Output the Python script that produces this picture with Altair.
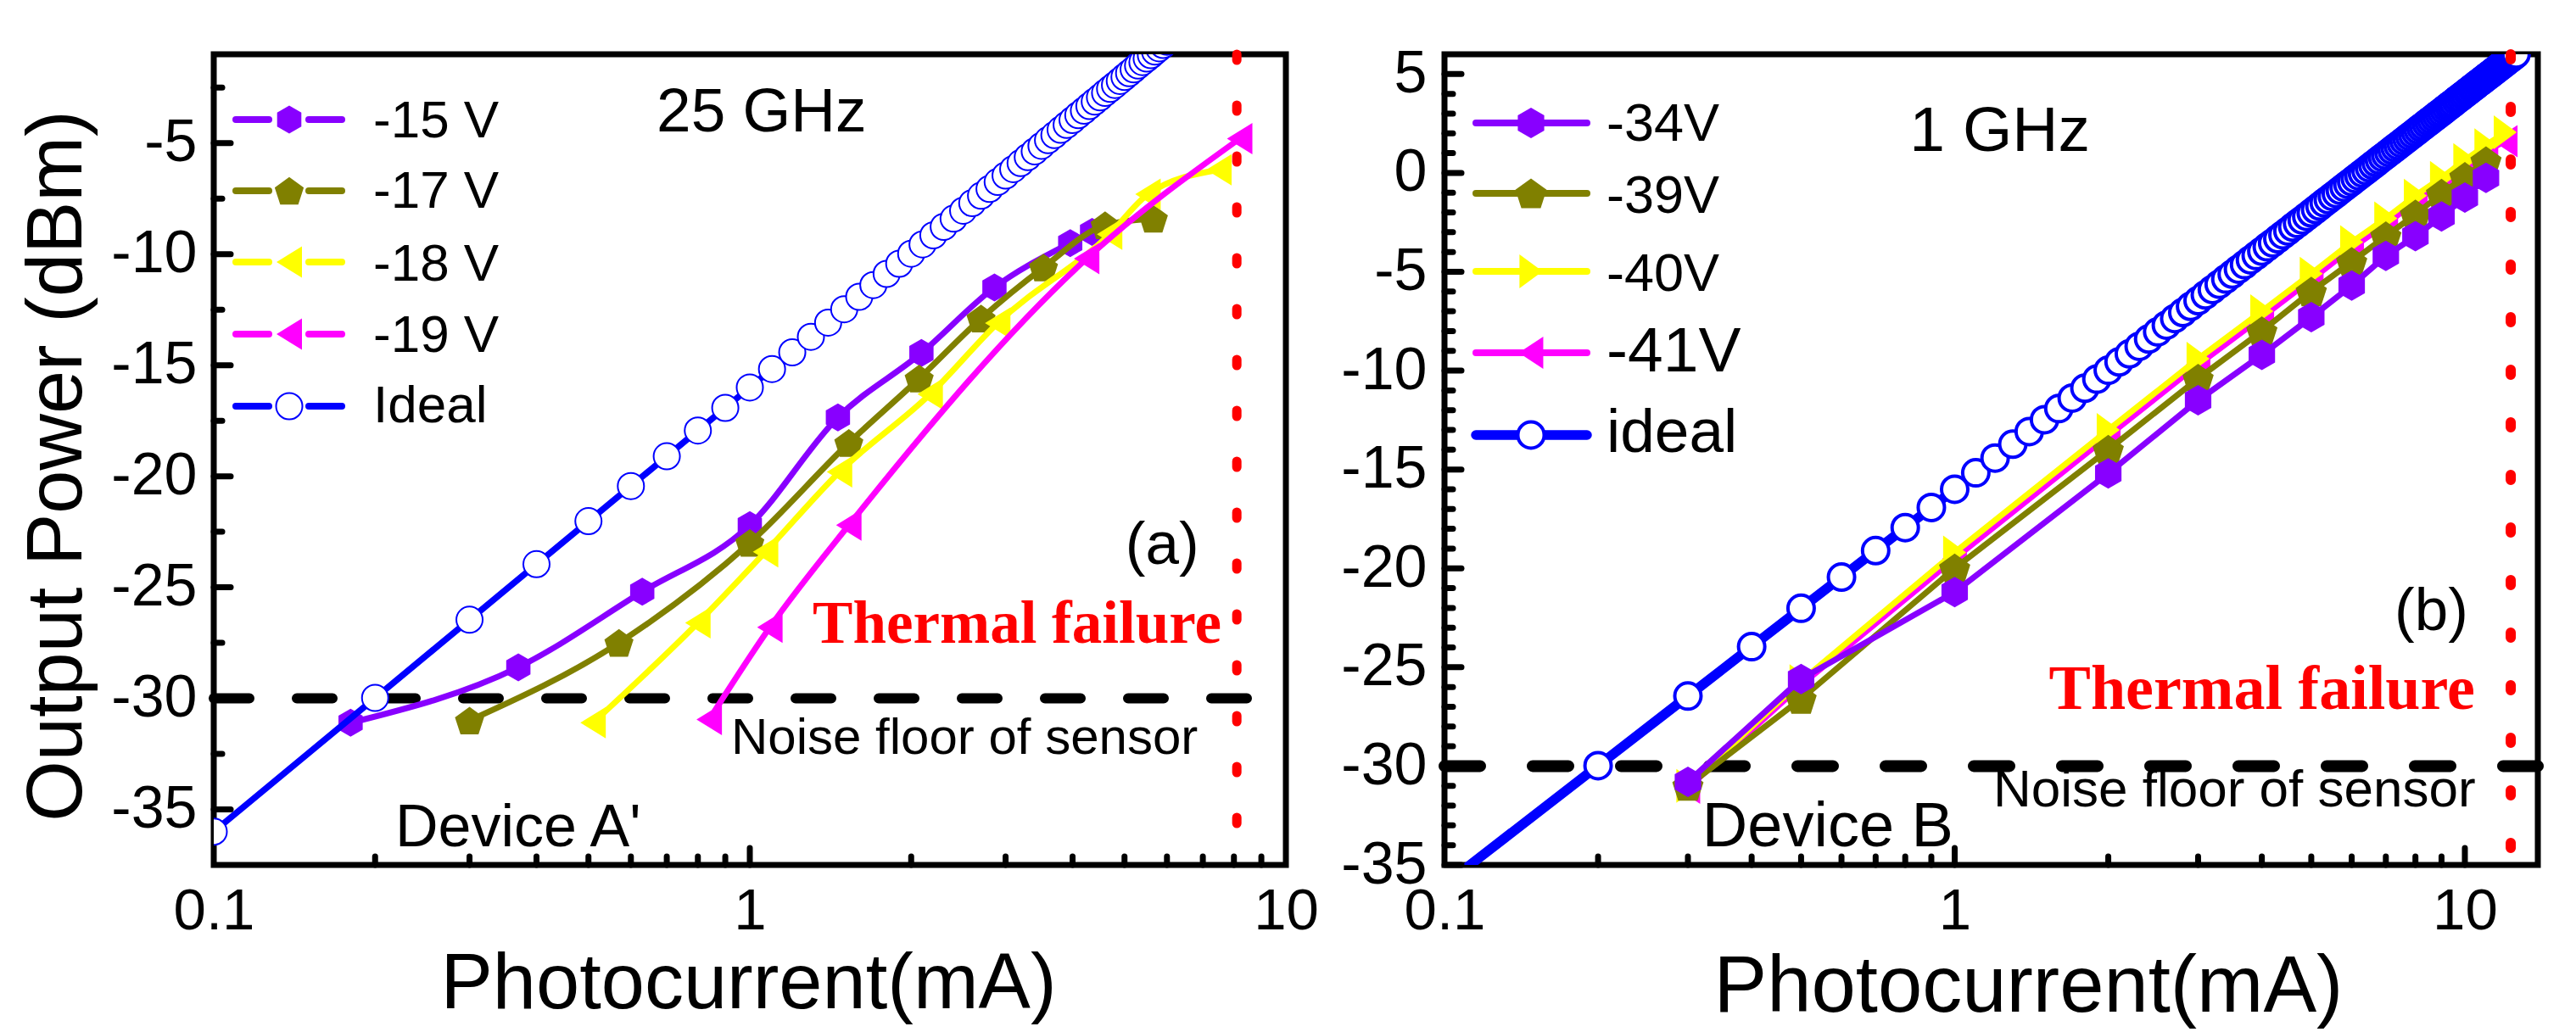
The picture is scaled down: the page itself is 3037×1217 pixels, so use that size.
import altair as alt
import pandas as pd

# ---------------- panel (a): Device A', 25 GHz ----------------
A_NAMES = ["-15 V", "-17 V", "-18 V", "-19 V", "Ideal"]
A15_I = [0.18, 0.37, 0.63, 1.0, 1.46, 2.09, 2.86, 3.96, 4.35]
A15_P = [-31.1, -28.6, -25.2, -22.2, -17.35, -14.45, -11.5, -9.5, -9.0]
A17_I = [0.30, 0.57, 1.0, 1.53, 2.07, 2.70, 3.53, 4.6, 5.66]
A17_P = [-31.0, -27.5, -23.0, -18.5, -15.6, -12.9, -10.6, -8.7, -8.4]
A18_I = [0.51, 0.80, 1.07, 1.47, 2.17, 2.90, 4.69, 5.53, 7.5]
A18_P = [-31.1, -26.6, -23.4, -19.8, -16.3, -13.1, -9.1, -7.3, -6.2]
A19_I = [0.84, 1.09, 1.53, 4.25, 8.2]
A19_P = [-30.95, -26.8, -22.2, -10.2, -4.8]
A_FAIL_I = [8.1]
A_NOISE = [-30]

# ---------------- panel (b): Device B, 1 GHz ----------------
B_NAMES = ["-34V", "-39V", "-40V", "-41V", "ideal"]
B_I13 = [0.3, 0.5, 1, 2, 3, 4, 5, 6, 7, 8, 9, 10, 11]
B_I14 = [0.3, 0.5, 1, 2, 3, 4, 5, 6, 7, 8, 9, 10, 11, 12]
B34_P = [-30.8, -25.6, -21.2, -15.2, -11.5, -9.2, -7.3, -5.7, -4.2, -3.2, -2.2, -1.25, -0.25]
B39_P = [-31.0, -26.6, -20.0, -14.0, -10.4, -8.0, -6.0, -4.5, -3.2, -2.1, -1.05, -0.2, 0.6]
B40_P = [-31.0, -25.7, -19.2, -13.0, -9.4, -7.0, -5.1, -3.5, -2.3, -1.15, -0.25, 0.65, 1.4, 2.05]
B41_P = [-31.1, -25.9, -19.5, -13.3, -9.7, -7.3, -5.4, -3.8, -2.6, -1.45, -0.55, 0.35, 1.1, 1.6]
B_FAIL_I = [12.3]
B_NOISE = [-30]

# ideal response
IDEAL_I = [0.1, 0.2, 0.3, 0.4, 0.5, 0.6, 0.7, 0.8, 0.9, 1.0,
           1.1, 1.2, 1.3, 1.4, 1.5, 1.6, 1.7, 1.8, 1.9, 2.0,
           2.1, 2.2, 2.3, 2.4, 2.5, 2.6, 2.7, 2.8, 2.9, 3.0,
           3.1, 3.2, 3.3, 3.4, 3.5, 3.6, 3.7, 3.8, 3.9, 4.0,
           4.1, 4.2, 4.3, 4.4, 4.5, 4.6, 4.7, 4.8, 4.9, 5.0,
           5.1, 5.2, 5.3, 5.4, 5.5, 5.6, 5.7, 5.8, 5.9, 6.0,
           6.1, 6.2, 6.3, 6.4, 6.5, 6.6, 6.7, 6.8, 6.9, 7.0,
           7.1, 7.2, 7.3, 7.4, 7.5, 7.6, 7.7, 7.8, 7.9, 8.0,
           8.1, 8.2, 8.3, 8.4, 8.5, 8.6, 8.7, 8.8, 8.9, 9.0,
           9.1, 9.2, 9.3, 9.4, 9.5, 9.6, 9.7, 9.8, 9.9, 10.0,
           10.1, 10.2, 10.3, 10.4, 10.5, 10.6, 10.7, 10.8, 10.9, 11.0,
           11.1, 11.2, 11.3, 11.4, 11.5, 11.6, 11.7, 11.8, 11.9, 12.0,
           12.1, 12.2, 12.3, 12.4, 12.5, 12.6]
IDEAL_P = [-36.00, -29.98, -26.46, -23.96, -22.02, -20.44, -19.10, -17.94, -16.92, -16.00,
           -15.17, -14.42, -13.72, -13.08, -12.48, -11.92, -11.39, -10.89, -10.43, -9.98,
           -9.56, -9.15, -8.77, -8.40, -8.04, -7.70, -7.37, -7.06, -6.75, -6.46,
           -6.17, -5.90, -5.63, -5.37, -5.12, -4.87, -4.64, -4.40, -4.18, -3.96,
           -3.74, -3.54, -3.33, -3.13, -2.94, -2.74, -2.56, -2.38, -2.20, -2.02,
           -1.85, -1.68, -1.51, -1.35, -1.19, -1.04, -0.88, -0.73, -0.58, -0.44,
           -0.29, -0.15, -0.01, 0.12, 0.26, 0.39, 0.52, 0.65, 0.78, 0.90,
           1.03, 1.15, 1.27, 1.38, 1.50, 1.62, 1.73, 1.84, 1.95, 2.06,
           2.17, 2.28, 2.38, 2.49, 2.59, 2.69, 2.79, 2.89, 2.99, 3.08,
           3.18, 3.28, 3.37, 3.46, 3.55, 3.65, 3.74, 3.82, 3.91, 4.00,
           4.09, 4.17, 4.26, 4.34, 4.42, 4.51, 4.59, 4.67, 4.75, 4.83,
           4.91, 4.98, 5.06, 5.14, 5.21, 5.29, 5.36, 5.44, 5.51, 5.58,
           5.66, 5.73, 5.80, 5.87, 5.94, 6.01]
A_IDEAL_COUNT = 60

# axis ticks / labels
A_YLAB = [-35, -30, -25, -20, -15, -10, -5]
A_YMINOR = [-32.5, -27.5, -22.5, -17.5, -12.5, -7.5, -2.5]
B_YLAB = [-35, -30, -25, -20, -15, -10, -5, 0, 5]
B_YMINOR = [-34, -33, -32, -31, -29, -28, -27, -26, -24, -23, -22, -21, -19, -18, -17, -16,
            -14, -13, -12, -11, -9, -8, -7, -6, -4, -3, -2, -1, 1, 2, 3, 4]
X_LAB = [0.1, 1, 10]
A_XMAJOR = [1]
B_XMAJOR = [1, 10]
X_MINOR = [0.2, 0.3, 0.4, 0.5, 0.6, 0.7, 0.8, 0.9, 2, 3, 4, 5, 6, 7, 8, 9]

# ---------------- styles ----------------
FONT = "Liberation Sans"
SERIF = "Liberation Serif"
PURPLE, OLIVE, YELLOW, MAGENTA, BLUE, RED = "#8800FF", "#808000", "#FFFF00", "#FF00FF", "#0000FF", "#FF0000"
HEX = "M0,-1L0.866,-0.5L0.866,0.5L0,1L-0.866,0.5L-0.866,-0.5Z"
PENT = "M0,-0.905L0.951,-0.214L0.588,0.905L-0.588,0.905L-0.951,-0.214Z"
TRI_L = "M-0.81,0L0.81,-1L0.81,1Z"
TRI_L2 = "M-0.76,0L0.76,-1L0.76,1Z"
TRI_R = "M0.68,0L-0.68,-1L-0.68,1Z"

WA, WB, H = 1264, 1289, 956
ONE = pd.DataFrame({"k": [0]})


def xaxis(title_x, title_y, tfs):
    return alt.Axis(values=X_LAB, labelExpr="toString(datum.value)", ticks=False, tickSize=0,
                    domain=False, grid=False, labelFont=FONT, labelFontSize=69, labelColor="black",
                    labelPadding=20, labelFlush=False, labelOverlap=False,
                    title="Photocurrent(mA)", titleFont=FONT, titleFontSize=tfs, titleFontWeight="normal",
                    titleColor="black", titleX=title_x, titleY=title_y, titleBaseline="alphabetic",
                    titleAlign="center")


def yaxis(values, pad, title=None):
    kw = dict(values=values, labelExpr="toString(datum.value)", ticks=False, tickSize=0, domain=False,
              grid=False, labelFont=FONT, labelFontSize=70, labelColor="black", labelPadding=pad,
              labelFlush=False, labelOverlap=False, labelBaseline="middle")
    if title:
        kw.update(title=title, titleFont=FONT, titleFontSize=92, titleFontWeight="normal", titleColor="black",
                  titleAngle=270, titleX=-157, titleY=485, titleBaseline="alphabetic", titleAlign="center")
    else:
        kw.update(title=None)
    return alt.Axis(**kw)


def series(X, Y, xs, ys, color, shape, size, lw, interp, fill=None, stroke=None, sw=0):
    df = pd.DataFrame({"I": xs, "P": ys})
    line = alt.Chart(df).mark_line(color=color, strokeWidth=lw, interpolate=interp, clip=True,
                                   strokeCap="round", strokeJoin="round").encode(x=X, y=Y)
    pk = dict(shape=shape, size=size, filled=True, fill=fill or color, opacity=1, clip=True)
    if stroke:
        pk.update(stroke=stroke, strokeWidth=sw)
    pts = alt.Chart(df).mark_point(**pk).encode(x=X, y=Y)
    return [line, pts]


def text(X, Y, i, p, t, size, font=FONT, color="black", weight="normal"):
    df = pd.DataFrame({"I": [i], "P": [p], "t": [t]})
    return alt.Chart(df).mark_text(font=font, fontSize=size, color=color, fontWeight=weight, align="left",
                                   baseline="alphabetic").encode(x=X, y=Y, text="t:N")


def ticks(X, Y, ymaj, ymin, xmaj, xmin):
    L = []
    for vals, ln in ((ymaj, 20), (ymin, 10)):
        L.append(alt.Chart(pd.DataFrame({"P": vals})).mark_rule(color="black", strokeWidth=7, strokeCap="round")
                 .encode(y=Y, x=alt.value(0), x2=alt.value(ln)))
    for vals, ln in ((xmaj, 20), (xmin, 10)):
        L.append(alt.Chart(pd.DataFrame({"I": vals})).mark_rule(color="black", strokeWidth=7, strokeCap="round")
                 .encode(x=X, y=alt.value(H), y2=alt.value(H - ln)))
    return L


def legend(names, colors, shapes, sizes, fills, strokes, sws, lws, rows, bases, fsz, segs, mx, lx):
    L = []
    for k in range(len(names)):
        for a, b in segs:
            L.append(alt.Chart(ONE).mark_rule(color=colors[k], strokeWidth=lws[k], strokeCap="round")
                     .encode(x=alt.value(a), x2=alt.value(b), y=alt.value(rows[k])))
        pk = dict(shape=shapes[k], size=sizes[k], filled=True, fill=fills[k], opacity=1)
        if strokes[k]:
            pk.update(stroke=strokes[k], strokeWidth=sws[k])
        L.append(alt.Chart(ONE).mark_point(**pk).encode(x=alt.value(mx), y=alt.value(rows[k])))
        L.append(alt.Chart(ONE).mark_text(text=names[k], font=FONT, fontSize=fsz[k], align="left",
                                          baseline="alphabetic", color="black")
                 .encode(x=alt.value(lx), y=alt.value(bases[k])))
    return L


# ---------------- panel (a) ----------------
XA = alt.X("I:Q", scale=alt.Scale(type="log", domain=[0.1, 10], nice=False), axis=xaxis(630, 168, 92))
YA = alt.Y("P:Q", scale=alt.Scale(domain=[-37.5, -1], nice=False, zero=False),
           axis=yaxis(A_YLAB, 20, "Output Power (dBm)"))

la = []
la.append(alt.Chart(pd.DataFrame({"I": [0.1], "I2": [8.65], "P": A_NOISE}))
          .mark_rule(color="black", strokeWidth=12, strokeDash=[42, 56], strokeCap="round")
          .encode(x=XA, x2=alt.X2("I2"), y=YA))
la += series(XA, YA, A15_I, A15_P, PURPLE, HEX, 1089, 7, "monotone")
la += series(XA, YA, A17_I, A17_P, OLIVE, PENT, 1300, 7, "monotone")
la += series(XA, YA, A18_I, A18_P, YELLOW, TRI_L, 1369, 7, "monotone")
la += series(XA, YA, A19_I, A19_P, MAGENTA, TRI_L, 1369, 7, "monotone")
la += series(XA, YA, IDEAL_I[:A_IDEAL_COUNT], IDEAL_P[:A_IDEAL_COUNT], BLUE, "circle", 961, 7.5, "linear",
             fill="white", stroke=BLUE, sw=2)
la.append(alt.Chart(pd.DataFrame({"I": A_FAIL_I}))
          .mark_rule(color=RED, strokeWidth=11, strokeDash=[7, 53], strokeCap="round")
          .encode(x=XA, y=alt.value(0), y2=alt.value(H)))
la.append(text(XA, YA, 0.67, -4.47, "25 GHz", 73))
la.append(text(XA, YA, 5.02, -23.94, "(a)", 71))
la.append(text(XA, YA, 1.31, -27.5, "Thermal failure", 71, font=SERIF, color=RED, weight="bold"))
la.append(text(XA, YA, 0.923, -32.49, "Noise floor of sensor", 60))
la.append(text(XA, YA, 0.218, -36.65, "Device A'", 70))
la += ticks(XA, YA, A_YLAB, A_YMINOR, A_XMAJOR, X_MINOR)
la += legend(A_NAMES, [PURPLE, OLIVE, YELLOW, MAGENTA, BLUE], [HEX, PENT, TRI_L, TRI_L, "circle"],
             [1089, 1300, 1369, 1369, 961], [PURPLE, OLIVE, YELLOW, MAGENTA, "white"],
             [None, None, None, None, BLUE], [0, 0, 0, 0, 2], [8, 8, 8, 8, 8],
             [77, 161, 245, 330, 415], [98, 181, 267, 351, 434], [62, 62, 62, 62, 62],
             [(26, 65), (112, 151)], 89, 188)
panel_a = alt.layer(*la).properties(width=WA, height=H)

# ---------------- panel (b) ----------------
XB = alt.X("I:Q", scale=alt.Scale(type="log", domain=[0.1, 13.9], nice=False), axis=xaxis(688, 172, 94))
YB = alt.Y("P:Q", scale=alt.Scale(domain=[-35, 6], nice=False, zero=False), axis=yaxis(B_YLAB, 21))

lb = []
lb.append(alt.Chart(pd.DataFrame({"I": [0.1], "I2": [13.9], "P": B_NOISE}))
          .mark_rule(color="black", strokeWidth=14, strokeDash=[42, 62], strokeCap="round")
          .encode(x=XB, x2=alt.X2("I2"), y=YB))
lb += series(XB, YB, B_I14, B41_P, MAGENTA, TRI_L2, 1444, 7, "linear")
lb += series(XB, YB, B_I14, B40_P, YELLOW, TRI_R, 1600, 7, "linear")
lb += series(XB, YB, B_I13, B39_P, OLIVE, PENT, 1500, 7, "linear")
lb += series(XB, YB, B_I13, B34_P, PURPLE, HEX, 1296, 7, "linear")
lb += series(XB, YB, IDEAL_I, IDEAL_P, BLUE, "circle", 961, 11.5, "linear", fill="white", stroke=BLUE, sw=4)
lb.append(alt.Chart(pd.DataFrame({"I": B_FAIL_I}))
          .mark_rule(color=RED, strokeWidth=12, strokeDash=[6, 56], strokeCap="round")
          .encode(x=XB, y=alt.value(0), y2=alt.value(H)))
lb.append(text(XB, YB, 0.816, 1.09, "1 GHz", 75))
lb.append(text(XB, YB, 7.28, -23.1, "(b)", 71))
lb.append(text(XB, YB, 1.53, -27.12, "Thermal failure", 74, font=SERIF, color=RED, weight="bold"))
lb.append(text(XB, YB, 1.19, -32.03, "Noise floor of sensor", 62))
lb.append(text(XB, YB, 0.32, -34.04, "Device B", 74))
lb += ticks(XB, YB, B_YLAB, B_YMINOR, B_XMAJOR, X_MINOR)
lb += legend(B_NAMES, [PURPLE, OLIVE, YELLOW, MAGENTA, BLUE], [HEX, PENT, TRI_R, TRI_L2, "circle"],
             [1296, 1500, 1600, 1444, 961], [PURPLE, OLIVE, YELLOW, MAGENTA, "white"],
             [None, None, None, None, BLUE], [0, 0, 0, 0, 4], [8, 8, 8, 8, 11.5],
             [81, 164, 256, 352, 449], [102, 187, 279, 374, 469], [63, 63, 63, 75, 73],
             [(37, 168)], 102, 191)
panel_b = alt.layer(*lb).properties(width=WB, height=H)

chart = (alt.hconcat(panel_a, panel_b, spacing=187, bounds="flush")
         .properties(padding={"left": 9, "top": 40, "right": 5, "bottom": 5}, background="white")
         .configure_view(stroke="black", strokeWidth=7))

chart.save("out.html", embed_options={"renderer": "svg", "actions": False})
